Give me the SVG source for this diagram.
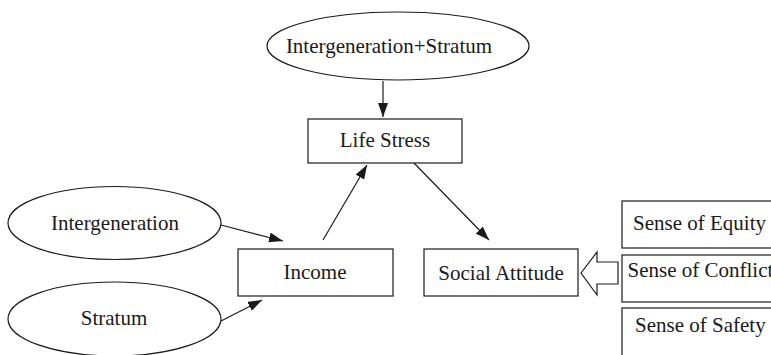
<svg xmlns="http://www.w3.org/2000/svg" width="771" height="355" viewBox="0 0 771 355">
<style>
.shape{fill:#fff;stroke:#1a1a1a;stroke-width:1.2}
.lbl{font-family:"Liberation Serif","Times New Roman",serif;font-size:21px;fill:#1a1a1a}
.mid{text-anchor:middle}
.conn{stroke:#1a1a1a;stroke-width:1.2;fill:none;marker-end:url(#ah)}
</style>
<defs>
<marker id="ah" markerUnits="userSpaceOnUse" markerWidth="14" markerHeight="10" viewBox="0 0 14 10" refX="14" refY="5" orient="auto">
<path d="M0,0 L14,5 L0,10 Z" fill="#1a1a1a"/>
</marker>
</defs>
<rect width="771" height="355" fill="#fff"/>
<g id="n-intergen-stratum">
<ellipse class="shape" cx="398" cy="46" rx="131" ry="34"/>
<text class="lbl mid" x="389" y="53">Intergeneration+Stratum</text>
</g>
<g id="n-life-stress">
<rect class="shape" x="308" y="119" width="154" height="44"/>
<text class="lbl mid" x="385" y="147">Life Stress</text>
</g>
<g id="n-intergeneration">
<ellipse class="shape" cx="114.5" cy="223" rx="106.5" ry="36.5"/>
<text class="lbl mid" x="115" y="230">Intergeneration</text>
</g>
<g id="n-stratum">
<ellipse class="shape" cx="114.5" cy="319" rx="106.5" ry="37"/>
<text class="lbl mid" x="114" y="325">Stratum</text>
</g>
<g id="n-income">
<rect class="shape" x="238" y="249" width="155" height="47"/>
<text class="lbl mid" x="315" y="279">Income</text>
</g>
<g id="n-social-attitude">
<rect class="shape" x="424" y="249" width="154" height="47"/>
<text class="lbl mid" x="501" y="280">Social Attitude</text>
</g>
<g id="n-equity">
<rect class="shape" x="622" y="201" width="170" height="47"/>
<text class="lbl" x="633" y="230">Sense of Equity</text>
</g>
<g id="n-conflict">
<rect class="shape" x="622" y="255" width="170" height="47"/>
<text class="lbl" x="627.5" y="277">Sense of Conflict</text>
</g>
<g id="n-safety">
<rect class="shape" x="622" y="308" width="170" height="60"/>
<text class="lbl" x="635" y="332">Sense of Safety</text>
</g>
<g id="connectors">
<line class="conn" x1="383" y1="81" x2="383" y2="117"/>
<line class="conn" x1="221" y1="225" x2="283" y2="241"/>
<line class="conn" x1="221" y1="321" x2="262" y2="300"/>
<line class="conn" x1="323" y1="240" x2="367" y2="165"/>
<line class="conn" x1="414" y1="163" x2="489" y2="240"/>
<polygon class="shape" points="581,273 597,252 597,262 618,262 618,284 597,284 597,295"/>
</g>
</svg>
